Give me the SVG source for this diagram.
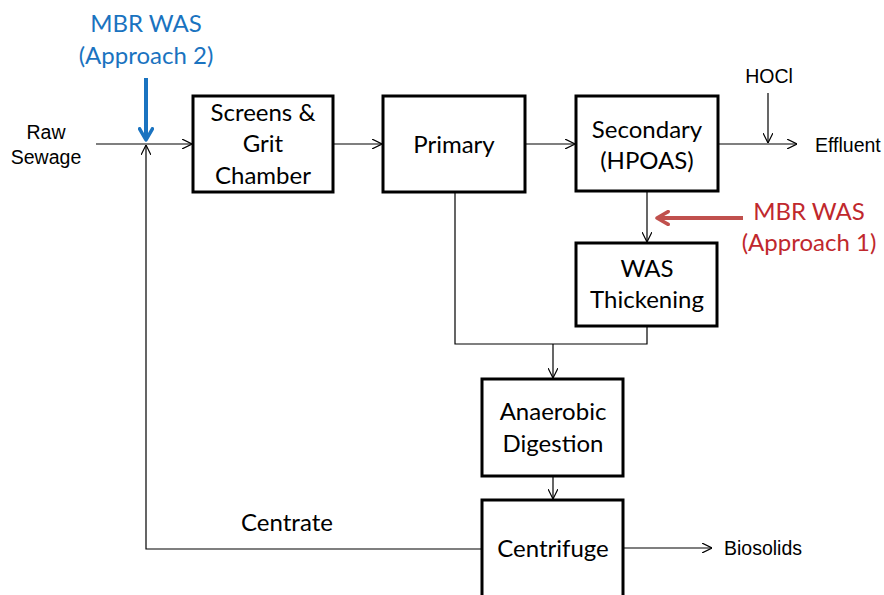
<svg xmlns="http://www.w3.org/2000/svg" width="884" height="595" viewBox="0 0 884 595">
<defs>
<marker id="open" viewBox="0 0 10 10" refX="10" refY="5" markerWidth="10" markerHeight="10" markerUnits="userSpaceOnUse" orient="auto">
<path d="M0,0 L10,5 L0,10" fill="none" stroke="#000" stroke-width="1.2"/>
</marker>
<marker id="blueHead" viewBox="0 0 10 10" refX="8" refY="5" markerWidth="4" markerHeight="4" orient="auto">
<path d="M1,1 L8,5 L1,9" fill="none" stroke="#1a73c0" stroke-width="2.2" stroke-linecap="round" stroke-linejoin="round"/>
</marker>
<marker id="redHead" viewBox="0 0 10 10" refX="8" refY="5" markerWidth="4" markerHeight="4" orient="auto">
<path d="M1,1 L8,5 L1,9" fill="none" stroke="#c0504d" stroke-width="2.2" stroke-linecap="round" stroke-linejoin="round"/>
</marker>
</defs>
<style>
.box{fill:#fff;stroke:#000;stroke-width:3}
.lbl{font-family:Lato,"Open Sans",sans-serif;font-size:24px;fill:#000;text-anchor:middle}
.sm{font-family:"Liberation Sans",Arial,sans-serif;font-size:19.5px;fill:#000}
.ln{fill:none;stroke:#000;stroke-width:1.2}
</style>
<rect width="884" height="595" fill="#fff"/>
<g id="connectors">
<path class="ln" d="M96,144 H192" marker-end="url(#open)"/>
<path class="ln" d="M482,549 H146 V145" marker-end="url(#open)"/>
<path class="ln" d="M333,144 H382" marker-end="url(#open)"/>
<path class="ln" d="M525,144 H575" marker-end="url(#open)"/>
<path class="ln" d="M718,144 H797" marker-end="url(#open)"/>
<path class="ln" d="M768,93 V143" marker-end="url(#open)"/>
<path class="ln" d="M647,191 V242" marker-end="url(#open)"/>
<path class="ln" d="M455,192 V344 H647 V326"/>
<path class="ln" d="M553,344 V378" marker-end="url(#open)"/>
<path class="ln" d="M553,476 V499" marker-end="url(#open)"/>
<path class="ln" d="M623,548 H712" marker-end="url(#open)"/>
<path d="M146,78 V140" fill="none" stroke="#1a73c0" stroke-width="4" marker-end="url(#blueHead)"/>
<path d="M743,218 H657" fill="none" stroke="#c0504d" stroke-width="4" marker-end="url(#redHead)"/>
</g>
<g id="screens">
<rect class="box" x="193" y="96" width="140" height="96"/>
<text class="lbl" x="263" y="121">Screens &amp;</text>
<text class="lbl" x="263" y="152">Grit</text>
<text class="lbl" x="263" y="184">Chamber</text>
</g>
<g id="primary">
<rect class="box" x="383" y="96" width="142" height="96"/>
<text class="lbl" x="454" y="153">Primary</text>
</g>
<g id="secondary">
<rect class="box" x="576" y="96" width="142" height="95"/>
<text class="lbl" x="647" y="138">Secondary</text>
<text class="lbl" x="647" y="169">(HPOAS)</text>
</g>
<g id="thickening">
<rect class="box" x="576" y="243" width="141" height="83"/>
<text class="lbl" x="647" y="277">WAS</text>
<text class="lbl" x="647" y="308">Thickening</text>
</g>
<g id="digestion">
<rect class="box" x="482" y="379" width="141" height="97"/>
<text class="lbl" x="553" y="420">Anaerobic</text>
<text class="lbl" x="553" y="452">Digestion</text>
</g>
<g id="centrifuge">
<rect class="box" x="482" y="500" width="141" height="110"/>
<text class="lbl" x="553" y="557">Centrifuge</text>
</g>
<g id="labels">
<text class="sm" x="46" y="139" text-anchor="middle">Raw</text>
<text class="sm" x="46" y="164" text-anchor="middle">Sewage</text>
<text class="sm" x="769" y="83" text-anchor="middle">HOCl</text>
<text class="sm" x="815" y="152">Effluent</text>
<text class="sm" x="724" y="555">Biosolids</text>
<text class="lbl" x="287" y="531">Centrate</text>
<text class="lbl" x="146" y="32" style="fill:#1a73c0">MBR WAS</text>
<text class="lbl" x="146" y="64" style="fill:#1a73c0">(Approach 2)</text>
<text class="lbl" x="809" y="220" style="fill:#c0282d">MBR WAS</text>
<text class="lbl" x="809" y="251" style="fill:#c0282d">(Approach 1)</text>
</g>
</svg>
